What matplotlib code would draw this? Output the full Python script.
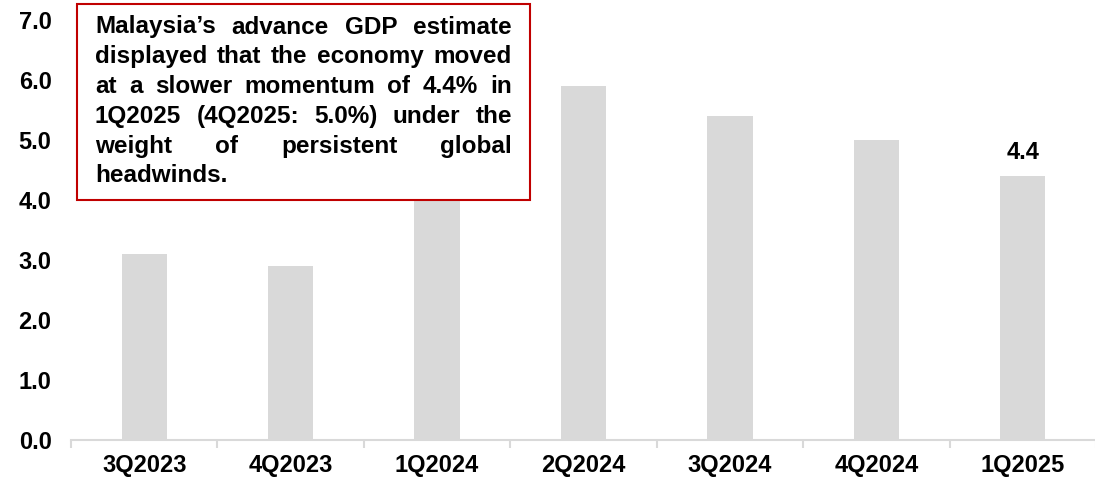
import matplotlib
matplotlib.use('Agg')
import matplotlib.pyplot as plt
import numpy as np
from matplotlib.patches import Rectangle

quarters = ['3Q2023', '4Q2023', '1Q2024', '2Q2024', '3Q2024', '4Q2024', '1Q2025']
gdp_growth = [3.1, 2.9, 4.2, 5.9, 5.4, 5.0, 4.4]
yticks = [0.0, 1.0, 2.0, 3.0, 4.0, 5.0, 6.0, 7.0]

note_lines = [
    "Malaysia\u2019s advance GDP estimate",
    "displayed that the economy moved",
    "at a slower momentum of 4.4% in",
    "1Q2025 (4Q2025: 5.0%) under the",
    "weight of persistent global",
    "headwinds.",
]

plt.rcParams['font.family'] = ['Liberation Sans', 'DejaVu Sans']
plt.rcParams['font.weight'] = 'bold'

W, H = 1095, 483
fig = plt.figure(figsize=(W / 100, H / 100), dpi=100)
ax = fig.add_axes([71 / W, 43 / H, 1025 / W, 420 / H])

x = np.arange(len(quarters))
ax.bar(x, gdp_growth, width=0.31, color='#d9d9d9', zorder=2)

ax.set_xlim(-0.5, len(quarters) - 0.5)
ax.set_ylim(0, 7)
ax.set_yticks(yticks)
ax.set_yticklabels([f'{v:.1f}' for v in yticks], fontsize=17, fontweight='bold')
ax.set_xticks(x)
ax.set_xticklabels(quarters, fontsize=17, fontweight='bold')
ax.set_xticks(np.arange(len(quarters) + 1) - 0.5, minor=True)
ax.tick_params(axis='x', which='major', length=0, pad=10)
ax.tick_params(axis='x', which='minor', length=6, width=1.5, color='#d9d9d9')
ax.tick_params(axis='y', length=0, pad=14)

for side in ['top', 'right', 'left']:
    ax.spines[side].set_visible(False)
ax.spines['bottom'].set_color('#d9d9d9')
ax.spines['bottom'].set_linewidth(1.5)

# value label on the latest quarter
ax.text(x[-1], gdp_growth[-1] + 0.2, f'{gdp_growth[-1]:.1f}', ha='center', va='bottom',
        fontsize=17, fontweight='bold')

# commentary box (figure pixel coords)
box_l, box_r, box_t, box_b = 77, 530, 4, 200
fig.patches.append(Rectangle((box_l / W, 1 - box_b / H), (box_r - box_l) / W, (box_b - box_t) / H,
                             transform=fig.transFigure, facecolor='white', edgecolor='#c00000',
                             linewidth=1.5, zorder=5))

renderer = fig.canvas.get_renderer()
fs = 17.5


def text_width(s):
    t = fig.text(0, 0, s, fontsize=fs, fontweight='bold')
    w = t.get_window_extent(renderer).width
    t.remove()
    return w


space_w = text_width('a a') - 2 * text_width('a')

# justified text, placed word by word
tx0, tx1 = 95, 512
line_y0, line_step = 27, 29.8
for i, line in enumerate(note_lines):
    words = line.split(' ')
    y = 1 - (line_y0 + i * line_step) / H
    texts = [fig.text(0, y, w, fontsize=fs, fontweight='bold', va='center', ha='left', zorder=6)
             for w in words]
    widths = [t.get_window_extent(renderer).width for t in texts]
    if i == len(note_lines) - 1 or len(words) == 1:
        gap = space_w
    else:
        gap = (tx1 - tx0 - sum(widths)) / (len(words) - 1)
    cur = tx0
    for t, w in zip(texts, widths):
        t.set_x(cur / W)
        cur += w + gap

fig.savefig('out.png', dpi=100)
